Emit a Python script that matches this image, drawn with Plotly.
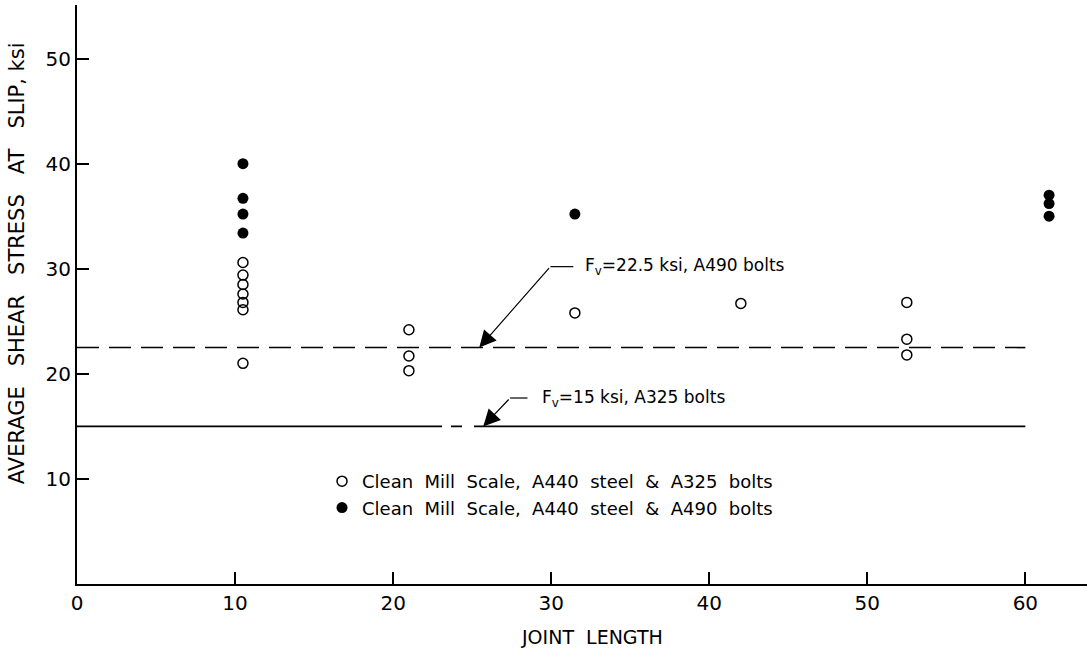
import plotly.graph_objects as go

# ---- data ----
a325_x = [10.5, 10.5, 10.5, 10.5, 10.5, 10.5, 10.5,
          21, 21, 21,
          31.5,
          42,
          52.5, 52.5, 52.5]
a325_y = [30.6, 29.4, 28.5, 27.6, 26.8, 26.1, 21.0,
          24.2, 21.7, 20.3,
          25.8,
          26.7,
          26.8, 23.3, 21.8]

a490_x = [10.5, 10.5, 10.5, 10.5, 31.5, 61.5, 61.5, 61.5]
a490_y = [40.0, 36.7, 35.2, 33.4, 35.2, 37.0, 36.2, 35.0]

line_x = [0, 60]
fv_a490 = 22.5
fv_a325 = 15.0

x_ticks = [0, 10, 20, 30, 40, 50, 60]
y_ticks = [10, 20, 30, 40, 50]

legend_a325 = "Clean  Mill  Scale,  A440  steel  &  A325  bolts"
legend_a490 = "Clean  Mill  Scale,  A440  steel  &  A490  bolts"
label_a490 = "F<sub>v</sub>=22.5 ksi, A490 bolts"
label_a325 = "F<sub>v</sub>=15 ksi, A325 bolts"
x_title = "JOINT  LENGTH"
y_title = "AVERAGE   SHEAR   STRESS   AT   SLIP, ksi"

FONT = "DejaVu Sans"

fig = go.Figure()

fig.add_trace(go.Scatter(
    x=line_x, y=[fv_a490] * len(line_x), mode="lines",
    line=dict(color="black", width=1.6, dash="22px,10px"),
    showlegend=False, hoverinfo="skip"))
fig.add_trace(go.Scatter(
    x=line_x, y=[fv_a325] * len(line_x), mode="lines",
    line=dict(color="black", width=1.6, dash="365px,9px,11px,12px,700px"),
    showlegend=False, hoverinfo="skip"))

fig.add_trace(go.Scatter(
    x=a325_x, y=a325_y, mode="markers", name=legend_a325,
    marker=dict(symbol="circle-open", size=10, color="black",
                line=dict(color="black", width=1.5))))
fig.add_trace(go.Scatter(
    x=a490_x, y=a490_y, mode="markers", name=legend_a490,
    marker=dict(symbol="circle", size=11, color="black")))

# leader lines + arrows
leaders = [
    # (tip_x, tip_y, elbow_x, elbow_y, horiz_end_x, text_x, text)
    (25.45, fv_a490, 29.95, 30.2, 31.4, 32.0, label_a490),
    (25.7, fv_a325, 27.4, 17.7, 28.5, 29.3, label_a325),
]
for tx, ty, ex, ey, hx, txt_x, txt in leaders:
    fig.add_annotation(x=tx, y=ty, ax=ex, ay=ey, xref="x", yref="y",
                       axref="x", ayref="y", text="", showarrow=True,
                       arrowhead=2, arrowsize=2.8, arrowwidth=1.2,
                       arrowcolor="black", standoff=0)
    fig.add_shape(type="line", x0=ex, y0=ey, x1=hx, y1=ey, xref="x", yref="y",
                  line=dict(color="black", width=1.2))
    fig.add_annotation(x=txt_x, y=ey, xref="x", yref="y", text=txt,
                       showarrow=False, xanchor="left", yanchor="middle",
                       font=dict(family=FONT, size=17, color="black"))

# axis titles
fig.add_annotation(x=-0.0594, y=0.554, xref="paper", yref="paper",
                   text=y_title, textangle=-90, showarrow=False,
                   xanchor="center", yanchor="middle",
                   font=dict(family=FONT, size=21, color="black"))
fig.add_annotation(x=0.51, y=-0.0907, xref="paper", yref="paper",
                   text=x_title, showarrow=False,
                   xanchor="center", yanchor="middle",
                   font=dict(family=FONT, size=19, color="black"))

fig.update_layout(
    width=1087, height=655,
    margin=dict(l=77, r=0, t=5, b=71),
    paper_bgcolor="white", plot_bgcolor="white",
    font=dict(family=FONT, color="black"),
    showlegend=True,
    legend=dict(x=0.2426, y=0.209, xanchor="left", yanchor="top",
                bgcolor="rgba(0,0,0,0)", font=dict(family=FONT, size=18),
                tracegroupgap=0),
)
fig.update_xaxes(
    range=[0, 63.9], tickvals=x_ticks, ticktext=[str(v) for v in x_ticks],
    ticks="inside", ticklen=12, tickwidth=1.5, tickcolor="black",
    showline=True, linecolor="black", linewidth=2, showgrid=False, zeroline=False,
    tickfont=dict(family=FONT, size=20),
)
fig.update_yaxes(
    range=[0, 55.1], tickvals=y_ticks, ticktext=[str(v) for v in y_ticks],
    ticks="inside", ticklen=12, tickwidth=1.5, tickcolor="black",
    showline=True, linecolor="black", linewidth=2, showgrid=False, zeroline=False,
    tickfont=dict(family=FONT, size=20),
)

fig.write_html("out.html")
